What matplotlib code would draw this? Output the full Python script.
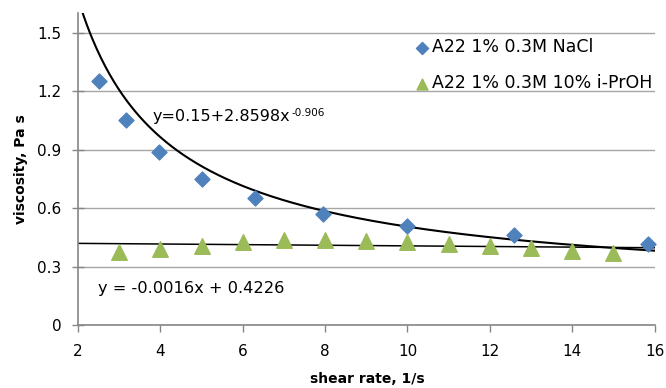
import numpy as np
import matplotlib
matplotlib.use("Agg")
import matplotlib.pyplot as plt
from matplotlib.transforms import offset_copy

plt.rcParams['font.family'] = ['DejaVu Sans']

# data
nacl_x = [2.51, 3.16, 3.98, 5.01, 6.31, 7.94, 10.0, 12.59, 15.85]
nacl_y = [1.25, 1.05, 0.89, 0.75, 0.65, 0.57, 0.51, 0.46, 0.415]
proh_x = [3, 4, 5, 6, 7, 8, 9, 10, 11, 12, 13, 14, 15]
proh_y = [0.375, 0.39, 0.405, 0.425, 0.435, 0.435, 0.43, 0.425, 0.415, 0.405, 0.395, 0.38, 0.37]
labels = ['A22 1% 0.3M NaCl', 'A22 1% 0.3M 10% i-PrOH']
xticks = [2, 4, 6, 8, 10, 12, 14, 16]
yticks = [0, 0.3, 0.6, 0.9, 1.2, 1.5]
ytick_labels = ['0', '0.3', '0.6', '0.9', '1.2', '1.5']
# fit parameters
pw_a, pw_b, pw_c = 0.15, 2.8598, -0.906
lin_m, lin_b = -0.0016, 0.4226

fig = plt.figure(figsize=(6.66, 3.88), dpi=100)
ax = fig.add_axes([0.117, 0.162, 0.866, 0.804])

ax.set_xlim(2, 16)
ax.set_ylim(0, 1.6)
ax.set_xticks(xticks)
ax.set_yticks(yticks)
ax.set_yticklabels(ytick_labels)
ax.grid(axis='y', color='#a6a6a6', lw=1)
ax.set_axisbelow(True)
for s in ['top', 'right']:
    ax.spines[s].set_visible(False)
for s in ['left', 'bottom']:
    ax.spines[s].set_color('#868686')
    ax.spines[s].set_linewidth(1.2)
ax.tick_params(axis='both', colors='#868686', labelcolor='black', labelsize=11, width=1)
ax.tick_params(axis='y', direction='inout', length=8.6, pad=7.5)
ax.tick_params(axis='x', direction='out', length=5, pad=8.5)

xs = np.linspace(2, 16, 400)
ax.plot(xs, pw_a + pw_b * xs ** pw_c, color='black', lw=1.5, zorder=2)
ax.plot(xs, lin_m * xs + lin_b, color='black', lw=1.1, zorder=2)

ax.scatter(nacl_x, nacl_y, marker='D', s=58, color='#4f81bd', label=labels[0], zorder=3, clip_on=False)
ax.scatter(proh_x, proh_y, marker='^', s=125, color='#9bbb59', label=labels[1], zorder=3, clip_on=False)

t1 = ax.text(3.82, 1.068, 'y=0.15+2.8598x', fontsize=11.5, ha='left', va='center')
fig.canvas.draw()
bb = t1.get_window_extent()
inv = ax.transData.inverted()
x_end, y_top = inv.transform((bb.x1, bb.y1))
ax.text(x_end, y_top, '-0.906', fontsize=7.5, ha='left', va='top',
        transform=offset_copy(ax.transData, fig=fig, x=0.5, y=1, units='points'))
ax.text(2.49, 0.19, 'y = -0.0016x + 0.4226', fontsize=11.7, ha='left', va='center')

leg = ax.legend(loc='upper left', bbox_to_anchor=(0.566, 0.942), frameon=False, fontsize=12.5,
                handletextpad=0.0, labelspacing=1.05, borderaxespad=0.0,
                handlelength=1.2)
leg.legend_handles[0].set_sizes([38])
leg.legend_handles[1].set_sizes([62])

ax.set_ylabel('viscosity, Pa s', fontsize=10, fontweight='bold', va='center')
ax.yaxis.set_label_coords(-0.098, 0.5)
ax.set_xlabel('shear rate, 1/s', fontsize=10, fontweight='bold', va='center')
ax.xaxis.set_label_coords(0.502, -0.172)

fig.savefig('out.png', dpi=100)
